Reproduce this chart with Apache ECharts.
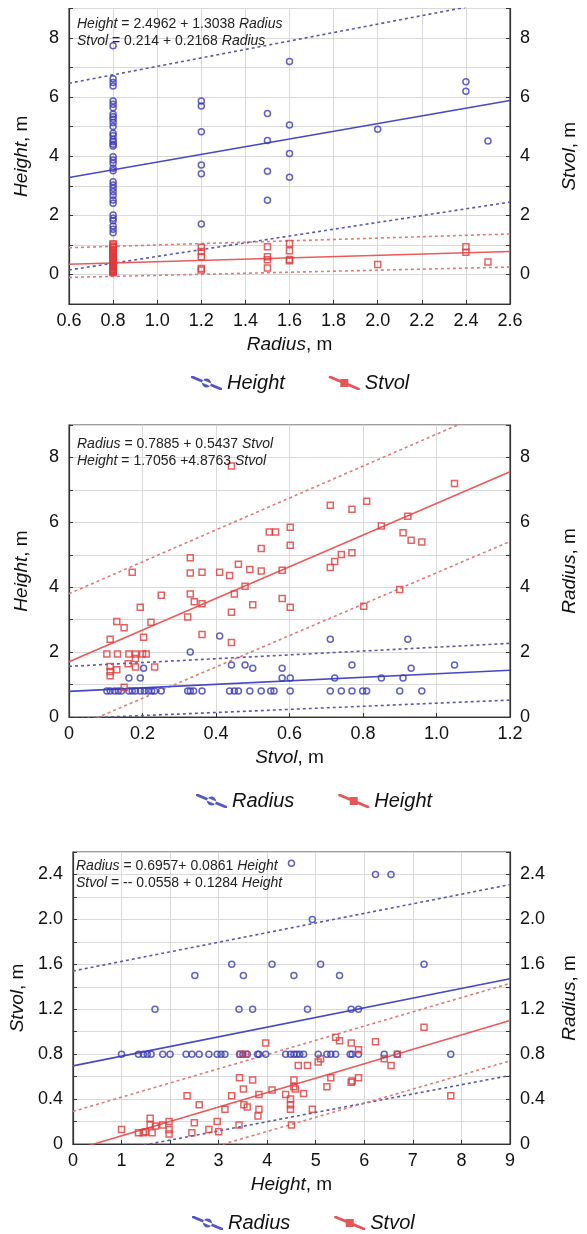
<!DOCTYPE html>
<html><head><meta charset="utf-8">
<script src="https://cdn.jsdelivr.net/npm/echarts@6/dist/echarts.min.js"></script>
<style>html,body{margin:0;padding:0;background:#fff}#c{width:587px;height:1234px}</style>
</head><body><div id="c"></div>
<script>
// ---------- Panel 1: x = Radius; Height (blue), Stvol (red) ----------
const p1Height = [
  [0.8,7.74],[0.8,6.62],[0.8,6.5],[0.8,6.38],[0.8,5.87],[0.8,5.76],[0.8,5.64],[0.8,5.42],[0.8,5.34],[0.8,5.25],
  [0.8,5.14],[0.8,5.01],[0.8,4.78],[0.8,4.69],[0.8,4.57],[0.8,4.49],[0.8,4.41],[0.8,4.35],[0.8,3.98],[0.8,3.87],
  [0.8,3.76],[0.8,3.59],[0.8,3.51],[0.8,3.14],[0.8,3.03],[0.8,2.92],[0.8,2.8],[0.8,2.67],[0.8,2.52],[0.8,2.41],
  [0.8,2.01],[0.8,1.9],[0.8,1.82],[0.8,1.64],[0.8,1.53],[0.8,1.41],
  [1.2,5.87],[1.2,5.7],[1.2,4.83],[1.2,3.7],[1.2,3.41],[1.2,1.71],
  [1.5,5.45],[1.5,4.53],[1.5,3.49],[1.5,2.51],
  [1.6,7.21],[1.6,5.06],[1.6,4.09],[1.6,3.29],
  [2.0,4.91],[2.4,6.52],[2.4,6.2],[2.5,4.52]
];
const p1Stvol = [
  [0.8,0.06],[0.8,0.09],[0.8,0.1],[0.8,0.11],[0.8,0.13],[0.8,0.16],[0.8,0.17],[0.8,0.2],[0.8,0.23],[0.8,0.25],
  [0.8,0.28],[0.8,0.31],[0.8,0.33],[0.8,0.35],[0.8,0.4],[0.8,0.43],[0.8,0.45],[0.8,0.48],[0.8,0.51],[0.8,0.55],
  [0.8,0.57],[0.8,0.59],[0.8,0.63],[0.8,0.67],[0.8,0.7],[0.8,0.73],[0.8,0.76],[0.8,0.8],[0.8,0.84],[0.8,0.9],
  [0.8,0.92],[0.8,0.95],[0.8,1.0],[0.8,1.04],
  [1.2,0.92],[1.2,0.78],[1.2,0.6],[1.2,0.2],[1.2,0.15],
  [1.5,0.94],[1.5,0.6],[1.5,0.5],[1.5,0.22],
  [1.6,1.05],[1.6,0.8],[1.6,0.51],[1.6,0.46],
  [2.0,0.34],[2.4,0.94],[2.4,0.75],[2.5,0.42]
];
const p1Ends = [0.6, 2.6];
const p1HeightFit = [2.4962, 1.3038];
const p1StvolFit = [0.214, 0.2168];
const p1HeightUpper = [6.47, 9.33];
const p1HeightLower = [0.15, 2.45];
const p1StvolUpper = [0.905, 1.37];
const p1StvolLower = [-0.1, 0.25];
const p1XTicks = [0.6, 2.6, 0.2];
const p1YTicks = [-1, 9, 1];

// ---------- Panel 2: x = Stvol; Radius (blue), Height (red) ----------
const p2Radius = [
  [0.203,1.5],[0.163,1.2],[0.194,1.2],[0.33,2.0],[0.41,2.5],[0.442,1.6],[0.479,1.6],[0.5,1.5],[0.58,1.5],[0.58,1.2],[0.602,1.2],
  [0.103,0.8],[0.112,0.8],[0.124,0.8],[0.134,0.8],[0.143,0.8],[0.163,0.8],[0.172,0.8],[0.181,0.8],[0.194,0.8],[0.205,0.8],
  [0.216,0.8],[0.225,0.8],[0.233,0.8],[0.251,0.8],[0.323,0.8],[0.33,0.8],[0.339,0.8],[0.362,0.8],[0.437,0.8],[0.45,0.8],
  [0.461,0.8],[0.492,0.8],[0.523,0.8],[0.549,0.8],[0.558,0.8],[0.602,0.8],[0.711,0.8],[0.741,0.8],[0.77,0.8],[0.799,0.8],
  [0.81,0.8],[0.9,0.8],[0.96,0.8],
  [0.711,2.4],[0.922,2.4],[0.77,1.6],[0.931,1.5],[1.049,1.6],[0.723,1.2],[0.85,1.2],[0.909,1.2]
];
const p2Height = [
  [0.172,4.46],[0.112,2.4],[0.13,2.94],[0.15,2.75],[0.194,3.38],[0.223,2.92],[0.251,3.75],[0.203,2.46],[0.103,1.94],[0.132,1.94],
  [0.163,1.94],[0.181,1.94],[0.181,1.8],[0.161,1.64],[0.181,1.54],[0.2,1.94],[0.21,1.94],[0.233,1.54],[0.112,1.56],[0.112,1.4],
  [0.112,1.27],[0.13,1.46],[0.15,0.92],
  [0.33,4.91],[0.33,4.44],[0.362,4.46],[0.33,3.79],[0.341,3.55],[0.362,3.49],[0.323,3.08],[0.362,2.54],[0.41,4.46],[0.442,7.74],
  [0.437,4.36],[0.461,4.71],[0.492,4.55],[0.523,4.5],[0.45,3.79],[0.479,4.03],[0.5,3.46],[0.442,3.23],[0.442,2.3],[0.523,5.19],
  [0.545,5.7],[0.562,5.7],[0.602,5.85],[0.602,5.29],[0.58,4.52],[0.58,3.65],[0.602,3.38],
  [0.711,6.53],[0.77,6.4],[0.81,6.65],[0.711,4.61],[0.723,4.79],[0.741,5.01],[0.77,5.06],[0.802,3.41],[0.85,5.89],[0.909,5.68],
  [0.922,6.19],[0.931,5.45],[0.96,5.39],[0.9,3.93],[1.049,7.2]
];
const p2Ends = [0, 1.2];
const p2RadiusFit = [0.7885, 0.5437];
const p2HeightFit = [1.7056, 4.8763];
const p2RadiusUpper = [1.56, 2.27];
const p2RadiusLower = [-0.05, 0.52];
const p2HeightUpper = [3.8, 9.7];
const p2HeightLower = [-0.39, 5.41];
const p2XTicks = [0, 1.2, 0.2];
const p2YTicks = [0, 9, 1];

// ---------- Panel 3: x = Height; Radius (blue), Stvol (red) ----------
const p3Radius = [
  [4.5,2.5],[6.23,2.4],[6.55,2.4],[4.93,2.0],[3.27,1.6],[4.1,1.6],[5.1,1.6],[7.23,1.6],[2.51,1.5],[3.51,1.5],
  [4.55,1.5],[5.49,1.5],[1.69,1.2],[3.42,1.2],[3.7,1.2],[4.83,1.2],[5.73,1.2],[5.88,1.2],
  [1.0,0.8],[1.35,0.8],[1.45,0.8],[1.53,0.8],[1.61,0.8],[1.85,0.8],[2.0,0.8],[2.33,0.8],[2.45,0.8],[2.6,0.8],
  [2.8,0.8],[2.97,0.8],[3.05,0.8],[3.13,0.8],[3.43,0.8],[3.5,0.8],[3.59,0.8],[3.8,0.8],[3.83,0.8],[3.97,0.8],
  [4.38,0.8],[4.48,0.8],[4.55,0.8],[4.61,0.8],[4.67,0.8],[4.75,0.8],[5.05,0.8],[5.23,0.8],[5.31,0.8],[5.41,0.8],
  [5.71,0.8],[5.75,0.8],[5.88,0.8],[6.41,0.8],[6.68,0.8],[7.78,0.8]
];
const p3Stvol = [
  [1.0,0.13],[1.35,0.1],[1.45,0.1],[1.49,0.11],[1.59,0.23],[1.59,0.17],[1.63,0.1],[1.7,0.16],[1.85,0.17],[1.98,0.2],
  [1.98,0.13],[1.98,0.09],[2.35,0.43],[2.5,0.19],[2.6,0.35],[2.45,0.1],[2.8,0.13],[2.97,0.2],[3.0,0.11],[3.13,0.31],
  [3.27,0.43],[3.42,0.17],[3.43,0.59],[3.51,0.49],[3.52,0.35],[3.59,0.33],[3.7,0.57],[3.83,0.44],[3.83,0.31],[3.81,0.25],
  [3.97,0.9],[4.1,0.48],[3.45,0.8],[3.55,0.8],[4.38,0.44],[4.48,0.4],[4.48,0.35],[4.48,0.31],[4.5,0.17],[4.55,0.57],
  [4.55,0.51],[4.58,0.49],[4.64,0.7],[4.75,0.45],[4.83,0.7],[4.93,0.31],[5.05,0.73],[5.1,0.76],[5.31,0.59],[5.23,0.51],
  [5.41,0.95],[5.49,0.92],[5.73,0.9],[5.73,0.55],[5.75,0.56],[5.88,0.59],[5.88,0.84],[6.23,0.91],[6.41,0.76],[6.55,0.7],
  [6.68,0.8],[7.23,1.04],[7.78,0.43]
];
const p3Ends = [0, 9];
const p3RadiusFit = [0.6957, 0.0861];
const p3StvolFit = [-0.0558, 0.1284];
const p3RadiusUpper = [1.54, 2.31];
const p3RadiusLower = [-0.13, 0.61];
const p3StvolUpper = [0.29, 1.43];
const p3StvolLower = [-0.39, 0.74];
const p3XTicks = [0, 9, 1];
const p3YTicks = [0, 2.6, 0.2];

// ---------- styling ----------
const FONT = '"Liberation Sans", Arial, sans-serif';
const BLUE = '#3a3ab8';
const RED = '#e03a3a';
const BLUE_FIT = '#4848c8';
const RED_FIT = '#ec5a5a';
const BLUE_DOT = '#5a5aa8';
const RED_DOT = '#e27a7a';
const TXT = '#111';

const grids = [
  {left: 69, right: 66, top: 8.5, height: 295.5},
  {left: 69, right: 66, top: 425, height: 292},
  {left: 69, right: 66, top: 852, height: 292}
];

function fmt1(v){ return Math.abs(v) < 1e-9 ? '0' : v.toFixed(1); }
function fmtEvenInt(v){ const r = Math.round(v); return (r % 2 === 0) ? String(r) : ''; }
function fmtStep04(v){ const k = Math.round(v * 10); return (k % 4 === 0) ? fmt1(v) : ''; }
function fmtInt(v){ return String(Math.round(v)); }

const richName = {i: {fontStyle: 'italic', fontSize: 19, fontFamily: FONT, color: TXT}};

function mkX(gi, t, name, fmt){
  return {
    type: 'value', gridIndex: gi, min: t[0], max: t[1], interval: t[2],
    name: name, nameLocation: 'middle', nameGap: 31,
    nameTextStyle: {fontSize: 19, fontFamily: FONT, color: TXT, rich: richName},
    axisLine: {show: true, onZero: false, lineStyle: {color: '#333', width: 1.2}},
    axisTick: {show: true, inside: true, length: 4, lineStyle: {color: '#333'}},
    axisLabel: {fontSize: 18, fontFamily: FONT, color: TXT, margin: 8, formatter: fmt},
    splitLine: {show: true, lineStyle: {color: '#d9d9d9', width: 1}}
  };
}
function mkY(gi, t, name, fmt, pos){
  return {
    type: 'value', gridIndex: gi, min: t[0], max: t[1], interval: t[2], position: pos,
    name: name, nameLocation: 'middle', nameRotate: 90, nameGap: pos === 'left' ? 38 : 50,
    nameTextStyle: {fontSize: 19, fontFamily: FONT, color: TXT, rich: richName},
    axisLine: {show: true, onZero: false, lineStyle: {color: '#333', width: 1.2}},
    axisTick: {show: true, inside: true, length: 4, lineStyle: {color: '#333'}},
    axisLabel: {fontSize: 18, fontFamily: FONT, color: TXT, margin: 10, formatter: fmt},
    splitLine: {show: pos === 'left', lineStyle: {color: '#d9d9d9', width: 1}}
  };
}

const xAxes = [
  mkX(0, p1XTicks, '{i|Radius}, m', fmt1),
  mkX(1, p2XTicks, '{i|Stvol}, m', fmt1),
  mkX(2, p3XTicks, '{i|Height}, m', fmtInt)
];
const yAxes = [
  mkY(0, p1YTicks, '{i|Height}, m', fmtEvenInt, 'left'),
  mkY(0, p1YTicks, '{i|Stvol}, m', fmtEvenInt, 'right'),
  mkY(1, p2YTicks, '{i|Height}, m', fmtEvenInt, 'left'),
  mkY(1, p2YTicks, '{i|Radius}, m', fmtEvenInt, 'right'),
  mkY(2, p3YTicks, '{i|Stvol}, m', fmtStep04, 'left'),
  mkY(2, p3YTicks, '{i|Radius}, m', fmtStep04, 'right')
];

function scatter(name, xi, yi, data, color, shape){
  return {
    type: 'scatter', name: name, xAxisIndex: xi, yAxisIndex: yi, data: data,
    symbol: shape, symbolSize: 6, z: 5,
    itemStyle: {color: 'rgba(255,255,255,0)', borderColor: color, borderWidth: 1.5},
    emphasis: {disabled: true}, silent: true
  };
}
function fitLine(xi, yi, ends, coef, color){
  return {
    type: 'line', xAxisIndex: xi, yAxisIndex: yi, symbol: 'none', silent: true, z: 4,
    data: ends.map(x => [x, coef[0] + coef[1] * x]),
    lineStyle: {color: color, width: 1.6}
  };
}
function band(xi, yi, ends, vals, color){
  return {
    type: 'line', xAxisIndex: xi, yAxisIndex: yi, symbol: 'none', silent: true, z: 3,
    data: ends.map((x, k) => [x, vals[k]]),
    lineStyle: {color: color, width: 1.6, type: [3, 3]}
  };
}

const series = [
  band(0, 0, p1Ends, p1HeightUpper, BLUE_DOT), band(0, 0, p1Ends, p1HeightLower, BLUE_DOT),
  band(0, 1, p1Ends, p1StvolUpper, RED_DOT), band(0, 1, p1Ends, p1StvolLower, RED_DOT),
  fitLine(0, 0, p1Ends, p1HeightFit, BLUE_FIT), fitLine(0, 1, p1Ends, p1StvolFit, RED_FIT),
  scatter('Height', 0, 0, p1Height, BLUE, 'circle'), scatter('Stvol', 0, 1, p1Stvol, RED, 'rect'),
  band(1, 3, p2Ends, p2RadiusUpper, BLUE_DOT), band(1, 3, p2Ends, p2RadiusLower, BLUE_DOT),
  band(1, 2, p2Ends, p2HeightUpper, RED_DOT), band(1, 2, p2Ends, p2HeightLower, RED_DOT),
  fitLine(1, 3, p2Ends, p2RadiusFit, BLUE_FIT), fitLine(1, 2, p2Ends, p2HeightFit, RED_FIT),
  scatter('Radius', 1, 3, p2Radius, BLUE, 'circle'), scatter('Height', 1, 2, p2Height, RED, 'rect'),
  band(2, 5, p3Ends, p3RadiusUpper, BLUE_DOT), band(2, 5, p3Ends, p3RadiusLower, BLUE_DOT),
  band(2, 4, p3Ends, p3StvolUpper, RED_DOT), band(2, 4, p3Ends, p3StvolLower, RED_DOT),
  fitLine(2, 5, p3Ends, p3RadiusFit, BLUE_FIT), fitLine(2, 4, p3Ends, p3StvolFit, RED_FIT),
  scatter('Radius', 2, 5, p3Radius, BLUE, 'circle'), scatter('Stvol', 2, 4, p3Stvol, RED, 'rect')
];

const ICON_C = 'path://M0,0 L2.5,0 L31,12 L31,14 L28.5,14 L0,2 Z M11,7 A4.5,4.5 0 1,0 20,7 A4.5,4.5 0 1,0 11,7 Z';
const ICON_S = 'path://M0,0 L2.5,0 L31,12 L31,14 L28.5,14 L0,2 Z M11.5,3 L19.5,3 L19.5,11 L11.5,11 Z';

function legend(top, left, items){
  return {
    top: top, left: left, itemWidth: 31, itemHeight: 14, itemGap: 44, selectedMode: false,
    textStyle: {fontSize: 20, fontStyle: 'italic', fontFamily: FONT, color: TXT},
    data: items.map(it => ({name: it[0], icon: it[2] ? ICON_S : ICON_C,
      itemStyle: {color: it[1], opacity: 0.85, borderWidth: 0}}))
  };
}

const eqStyle = {
  fontSize: 14, fontWeight: 'normal', fontFamily: FONT, color: '#222', lineHeight: 17,
  rich: {i: {fontStyle: 'italic', fontSize: 14, fontFamily: FONT, color: '#222', lineHeight: 17}}
};

const option = {
  animation: false,
  backgroundColor: '#fff',
  grid: grids.map(g => Object.assign({show: true, borderColor: '#444', borderWidth: 1.2, backgroundColor: 'transparent'}, g)),
  xAxis: xAxes,
  yAxis: yAxes,
  title: [
    {left: 77, top: 16, padding: 0, textStyle: eqStyle,
     text: '{i|Height} = 2.4962 + 1.3038 {i|Radius}\n{i|Stvol} = 0.214 + 0.2168 {i|Radius}'},
    {left: 77, top: 435.5, padding: 0, textStyle: eqStyle,
     text: '{i|Radius} = 0.7885 + 0.5437 {i|Stvol}\n{i|Height} = 1.7056 +4.8763 {i|Stvol}'},
    {left: 76, top: 857.5, padding: 0, textStyle: eqStyle,
     text: '{i|Radius} = 0.6957+ 0.0861 {i|Height}\n{i|Stvol} = -- 0.0558 + 0.1284 {i|Height}'}
  ],
  legend: [
    legend(368, 186, [['Height', BLUE, false], ['Stvol', RED, true]]),
    legend(786, 191, [['Radius', BLUE, false], ['Height', RED, true]]),
    legend(1208, 187, [['Radius', BLUE, false], ['Stvol', RED, true]])
  ],
  series: series
};

const chart = echarts.init(document.getElementById('c'), null, {renderer: 'canvas'});
chart.setOption(option);
</script></body></html>
